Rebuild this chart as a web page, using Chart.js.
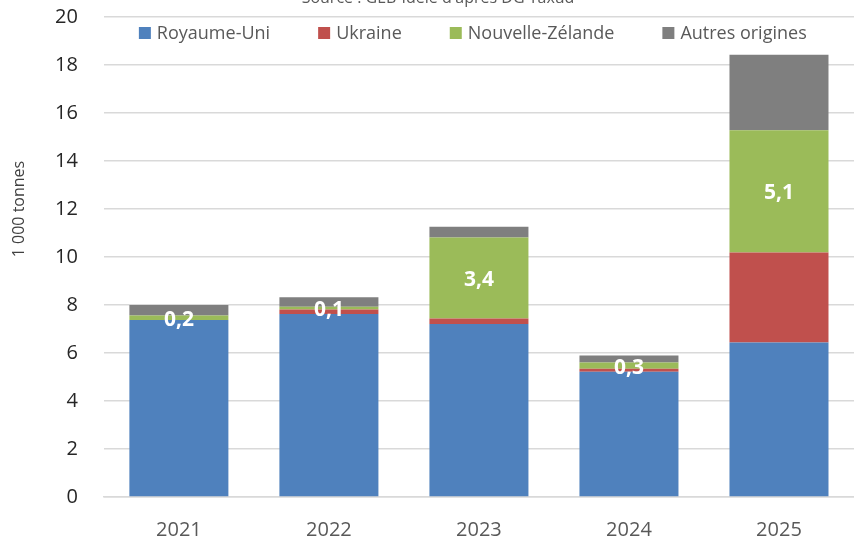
<!DOCTYPE html>
<html><head><meta charset="utf-8">
<script src="https://cdn.jsdelivr.net/npm/chart.js@4/dist/chart.umd.min.js"></script>
<style>html,body{margin:0;padding:0;background:#fff}#wrap{width:854px;height:539px}</style>
</head><body><div id="wrap"><canvas id="c" width="854" height="539"></canvas></div>
<script>
const years = ['2021','2022','2023','2024','2025'];
const royaumeUni = [7.38, 7.63, 7.21, 5.22, 6.44];
const ukraine = [0.0, 0.18, 0.23, 0.12, 3.75];
const nouvelleZelande = [0.18, 0.12, 3.37, 0.26, 5.09];
const autres = [0.44, 0.39, 0.45, 0.30, 3.15];
const yTicks = [0,2,4,6,8,10,12,14,16,18,20];
const sourceText = "Source : GEB-Idele d'après DG Taxud";
const yTitle = '1 000 tonnes';
const FONT = "'Open Sans', sans-serif";

const customPlugin = {
  id:'custom',
  afterDatasetsDraw(chart){
    const ctx = chart.ctx;
    const meta = chart.getDatasetMeta(2);
    ctx.save();
    ctx.fillStyle = '#ffffff';
    ctx.font = 'bold 21px ' + FONT;
    ctx.textAlign = 'center';
    ctx.textBaseline = 'middle';
    meta.data.forEach((el,i)=>{
      const txt = nouvelleZelande[i].toFixed(1).replace('.',',');
      ctx.fillText(txt, el.x, (el.y+el.base)/2 + 2);
    });
    ctx.restore();
  },
  afterDraw(chart){
    const ctx = chart.ctx;
    const ca = chart.chartArea;
    ctx.save();
    ctx.fillStyle = '#595959';
    ctx.font = '16px ' + FONT;
    ctx.textAlign = 'center';
    ctx.textBaseline = 'alphabetic';
    ctx.fillText(sourceText, 438, 3);
    ctx.save();
    ctx.translate(19, 209);
    ctx.rotate(-Math.PI/2);
    ctx.font = '16px ' + FONT;
    ctx.fillStyle = '#404040';
    ctx.textAlign = 'center';
    ctx.textBaseline = 'middle';
    ctx.fillText(yTitle, 0, 0);
    ctx.restore();
    ctx.font = '18px ' + FONT;
    ctx.textAlign = 'left';
    ctx.textBaseline = 'middle';
    const box = 12, gapBox = 6, gapItem = 48;
    let x = ca.left + 35;
    const y = ca.top + 16;
    chart.data.datasets.forEach(d=>{
      const w = ctx.measureText(d.label).width;
      ctx.fillStyle = d.backgroundColor;
      ctx.fillRect(x, y-box/2, box, box);
      x += box + gapBox;
      ctx.fillStyle = '#595959';
      ctx.fillText(d.label, x, y+1);
      x += w + gapItem;
    });
    ctx.restore();
  }
};

new Chart(document.getElementById('c'), {
  type:'bar',
  data:{
    labels: years,
    datasets:[
      {label:'Royaume-Uni', data: royaumeUni, backgroundColor:'#4F81BD'},
      {label:'Ukraine', data: ukraine, backgroundColor:'#C0504D'},
      {label:'Nouvelle-Zélande', data: nouvelleZelande, backgroundColor:'#9BBB59'},
      {label:'Autres origines', data: autres, backgroundColor:'#7F7F7F'}
    ]
  },
  options:{
    responsive:false,
    animation:false,
    layout:{padding:{top:17,right:0,left:29,bottom:-24}},
    datasets:{bar:{categoryPercentage:0.66, barPercentage:1.0}},
    plugins:{
      title:{display:false},
      tooltip:{enabled:false},
      legend:{display:false}
    },
    scales:{
      x:{
        stacked:true,
        grid:{display:false, drawTicks:false},
        border:{color:'#d9d9d9', width:1.5},
        ticks:{color:'#595959', font:{family:FONT, size:20}, padding:21}
      },
      y:{
        stacked:true,
        min:0, max:20,
        afterBuildTicks(axis){ axis.ticks = yTicks.map(v=>({value:v})); },
        afterFit(axis){ axis.paddingTop = 0; axis.paddingBottom = 0; },
        grid:{color:'#d9d9d9', lineWidth:1.5, drawTicks:false},
        border:{display:false},
        ticks:{color:'#262626', font:{family:FONT, size:20}, padding:26},
        title:{display:false}
      }
    }
  },
  plugins:[customPlugin]
});
</script>
</body></html>
